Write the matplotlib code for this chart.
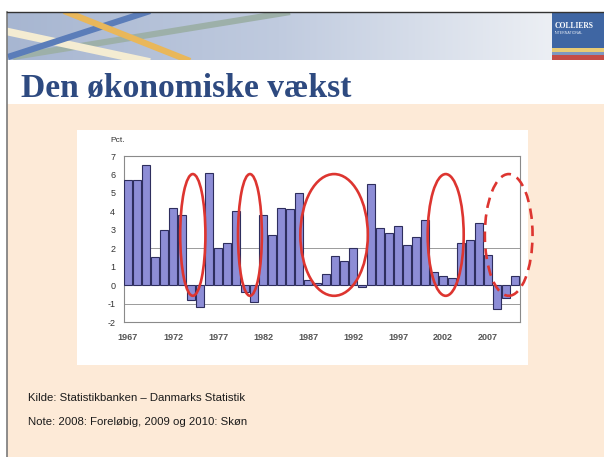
import matplotlib
matplotlib.use('Agg')
import matplotlib.pyplot as plt
from matplotlib.patches import Rectangle, Ellipse
import numpy as np

plt.rcParams['font.family'] = ['Liberation Sans', 'DejaVu Sans']
plt.rcParams['axes.unicode_minus'] = False

years = list(range(1967, 2011))
growth = [5.7, 5.7, 6.5, 1.5, 3.0, 4.2, 3.8, -0.8, -1.2, 6.1,
          2.0, 2.3, 4.0, -0.4, -0.9, 3.8, 2.7, 4.2, 4.1, 5.0,
          0.3, 0.1, 0.6, 1.6, 1.3, 2.0, -0.1, 5.5, 3.1, 2.85,
          3.2, 2.2, 2.6, 3.55, 0.7, 0.5, 0.4, 2.3, 2.45, 3.35,
          1.65, -1.3, -0.7, 0.5]
xtick_years = [1967, 1972, 1977, 1982, 1987, 1992, 1997, 2002, 2007]
yticks = list(range(-2, 8))

# red rings drawn on the slide (centre year, width in years, dashed?)
ring_x = [1974.2, 1980.55, 1989.9, 2002.3, 2009.3]
ring_w = [2.8, 2.65, 7.5, 4.0, 5.3]
ring_dashed = [False, False, False, False, True]
ring_y, ring_h = 2.72, 6.6

title = 'Den økonomiske vækst'
note1 = 'Kilde: Statistikbanken – Danmarks Statistik'
note2 = 'Note: 2008: Foreløbig, 2009 og 2010: Skøn'

W, H = 604, 457
fig = plt.figure(figsize=(W / 100, H / 100), dpi=100, facecolor='white')

# slide background drawn in pixel coordinates
bg = fig.add_axes([0, 0, 1, 1])
bg.axis('off')

bg.add_patch(Rectangle((7, 104), W - 7, H - 104, fc='#FDEAD7', ec='none', zorder=0))
bg.add_patch(Rectangle((7, 60), W - 7, 44, fc='white', ec='none', zorder=0))

# header band with gradient and stripes
grad = np.linspace(0, 1, 256).reshape(1, -1)
cmap = matplotlib.colors.LinearSegmentedColormap.from_list('hdr', ['#A7B6D1', '#C0CBDF', '#ECEFF4'])
bg.imshow(grad, extent=(7, 552, 60, 12), aspect='auto', cmap=cmap, zorder=1)
clip = Rectangle((7, 12), 545, 48, transform=bg.transData)
stripes = [
    ([13, 290], [57, 12], '#9DB0A9', 4.5),
    ([0, 150], [30, 62], '#F4ECD2', 5.5),
    ([8, 150], [57, 11], '#5B7DB9', 4.5),
    ([64, 190], [11, 61], '#E9B75A', 4.5),
]
for xs, ys, c, lw in stripes:
    ln, = bg.plot(xs, ys, color=c, lw=lw, solid_capstyle='butt', zorder=2)
    ln.set_clip_path(clip)

# logo block
bg.add_patch(Rectangle((552, 12), 52, 36, fc='#3F66A3', ec='none', zorder=2))
bg.add_patch(Rectangle((552, 48), 52, 3.5, fc='#E8CB74', ec='none', zorder=2))
bg.add_patch(Rectangle((552, 51.5), 52, 3.5, fc='#7F97BF', ec='none', zorder=2))
bg.add_patch(Rectangle((552, 55), 52, 5, fc='#C44C46', ec='none', zorder=2))
bg.text(555, 26, 'COLLIERS', color='white', fontsize=5.5, fontweight='bold',
        family='Liberation Serif', va='center', zorder=3)
bg.text(555, 32.5, 'INTERNATIONAL', color='#dfe6f2', fontsize=2.6, va='center', zorder=3)

# frame lines
bg.plot([6.5, 6.5], [11.5, H], color='#7a7a7a', lw=1.2, zorder=4)
bg.plot([6.5, W], [11.5, 11.5], color='#333333', lw=1.0, zorder=4)

bg.text(21, 97, title, family='Liberation Serif', fontweight='bold', fontsize=24.2,
        color='#2E4A80', va='baseline', zorder=3)

# white chart panel
bg.add_patch(Rectangle((77, 130), 451, 235, fc='white', ec='none', zorder=1))
bg.text(110, 140, 'Pct.', fontsize=6, color='#333333', va='center', zorder=3)

bg.text(28, 398, note1, fontsize=8.2, color='#1a1a1a', va='center', zorder=3)
bg.text(28, 422, note2, fontsize=8.2, color='#1a1a1a', va='center', zorder=3)

bg.set_xlim(0, W)
bg.set_ylim(H, 0)

# the bar chart
ax = fig.add_axes([123.5 / W, 1 - 322 / H, 396 / W, 166 / H])
ax.set_facecolor('white')
for v in [-1, 2]:
    ax.axhline(v, color='#9a9a9a', lw=0.7, zorder=1)
ax.bar(years, growth, width=0.86, color='#8D8DD6', edgecolor='#2E2E5E', linewidth=0.8, zorder=3)
ax.set_xlim(1966.5, 2010.5)
ax.set_ylim(-2, 7)
ax.set_yticks(yticks)
ax.set_xticks(xtick_years)
ax.tick_params(length=0, labelsize=6.5, colors='#333333')
ax.tick_params(axis='y', pad=6)
ax.tick_params(axis='x', pad=8)
for lab in ax.get_xticklabels():
    lab.set_fontweight('bold')
    lab.set_color('#555555')
for sp in ax.spines.values():
    sp.set_color('#8a8a8a')
    sp.set_linewidth(0.8)

for x, w, d in zip(ring_x, ring_w, ring_dashed):
    e = Ellipse((x, ring_y), w, ring_h, fill=False, ec='#DD3530', lw=1.9,
                linestyle=(0, (4, 2.5)) if d else '-', clip_on=False, zorder=5)
    ax.add_patch(e)

fig.savefig('out.png', dpi=100)
